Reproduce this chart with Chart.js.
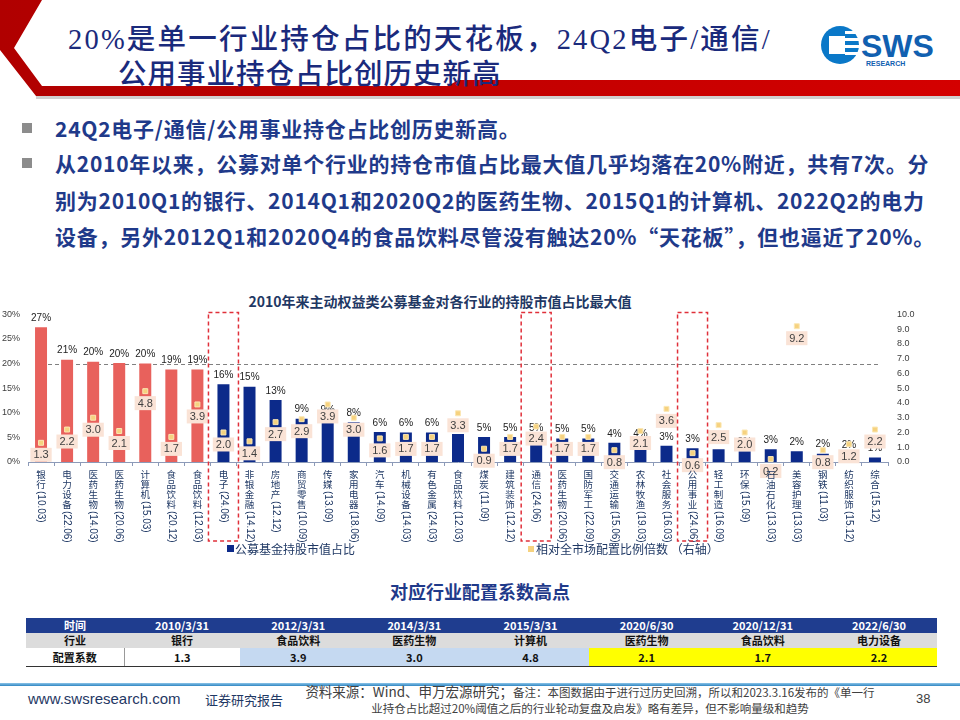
<!DOCTYPE html>
<html>
<head>
<meta charset="utf-8">
<script src="https://cdn.jsdelivr.net/npm/chart.js@4.4.1/dist/chart.umd.min.js"></script>
<style>
  body { margin: 0; background: #fff; }
  #slide { position: relative; width: 960px; height: 720px; overflow: hidden; background: #fff;
           font-family: "Noto Sans CJK SC", "Liberation Sans", sans-serif; }
  .abs { position: absolute; white-space: nowrap; }
  .title { font-family: "Liberation Serif", "Noto Sans CJK SC", serif; font-weight: 500; font-size: 28.5px;
           color: #1a2a7c; line-height: 34px; }
  .bullet { font-weight: 700; font-size: 21px; color: #1f3a8a; line-height: 36.5px; letter-spacing: 0.75px; }
  .sq { position: absolute; width: 10px; height: 10px; background: #8c8c8c; }
  table { position: absolute; left: 26px; top: 618px; width: 911px; border-collapse: collapse; table-layout: fixed;
          font-family: "Noto Sans CJK SC", sans-serif; font-size: 11px; font-weight: 700; }
  td { text-align: center; padding: 0; height: 15px; line-height: 15px; }
  tr.h td { background: #1f3d8f; color: #fff; }
  tr.r2 td { background: #dcdcdc; color: #111; }
  tr.r3 td { height: 18px; line-height: 18px; color: #111; border-bottom: 1.5px solid #333; }
</style>
</head>
<body>
<div id="slide">
  <svg class="abs" style="left:0;top:0" width="960" height="100">
    <defs>
      <linearGradient id="rg" x1="0" y1="0" x2="1" y2="0">
        <stop offset="0" stop-color="#b00000"/>
        <stop offset="1" stop-color="#d40000"/>
      </linearGradient>
    </defs>
    <polygon points="0,0 42,0 14,48 42,86 448,86 458,80 960,80 960,96 36,96 0,50" fill="url(#rg)"/>
    <rect x="36" y="96" width="924" height="3" fill="#d0d0d0"/>
    <circle cx="840" cy="45" r="19" fill="#0a78c8"/>
    <rect x="829" y="36" width="16" height="18" fill="#fff"/>
    <rect x="845" y="31" width="14" height="3" fill="#fff"/>
    <rect x="845" y="38" width="14" height="3" fill="#fff"/>
    <rect x="845" y="45" width="14" height="3" fill="#fff"/>
    <rect x="845" y="52" width="14" height="3" fill="#fff"/>
    <text x="861" y="57" font-family="Liberation Sans" font-weight="700" font-size="32" fill="#1160b0">SWS</text>
    <text x="866" y="66" font-family="Liberation Sans" font-weight="700" font-size="7" fill="#1160b0">RESEARCH</text>
  </svg>

  <div class="abs title" style="left:68px;top:23px;letter-spacing:2.2px">20%是单一行业持仓占比的天花板，24Q2电子/通信/</div>
  <div class="abs title" style="left:118px;top:58px;letter-spacing:1px">公用事业持仓占比创历史新高</div>

  <div class="sq" style="left:22px;top:123px"></div>
  <div class="abs bullet" style="left:55px;top:110px">24Q2电子/通信/公用事业持仓占比创历史新高。</div>
  <div class="sq" style="left:22px;top:158px"></div>
  <div class="abs bullet" style="left:55px;top:145px">从2010年以来，公募对单个行业的持仓市值占比最大值几乎均落在20%附近，共有7次。分<br>别为2010Q1的银行、2014Q1和2020Q2的医药生物、2015Q1的计算机、2022Q2的电力<br>设备，另外2012Q1和2020Q4的食品饮料尽管没有触达20%“天花板”，但也逼近了20%。</div>

  <div class="abs" style="left:0;width:880px;top:291px;text-align:center;font-weight:700;font-size:14px;color:#1f3864">2010年来主动权益类公募基金对各行业的持股市值占比最大值</div>

  <div class="abs" style="left:0;top:300px;width:960px;height:260px">
    <canvas id="c" width="960" height="260"></canvas>
  </div>

  <div class="abs" style="left:227px;top:545px;width:7px;height:7px;background:#0c2a8a"></div>
  <div class="abs" style="left:235px;top:540px;font-size:12px;color:#1f3864;line-height:17px">公募基金持股市值占比</div>
  <div class="abs" style="left:528px;top:546px;width:6px;height:6px;background:#f6d27f"></div>
  <div class="abs" style="left:536px;top:540px;font-size:12px;color:#1f3864;line-height:17px">相对全市场配置比例倍数 （右轴）</div>

  <div class="abs" style="left:0;width:960px;top:578px;text-align:center;font-weight:700;font-size:18px;color:#1f3a8a">对应行业配置系数高点</div>

  <table>
    <colgroup><col style="width:98px"><col><col><col><col><col><col><col></colgroup>
    <tr class="h"><td>时间</td><td>2010/3/31</td><td>2012/3/31</td><td>2014/3/31</td><td>2015/3/31</td><td>2020/6/30</td><td>2020/12/31</td><td>2022/6/30</td></tr>
    <tr class="r2"><td>行业</td><td>银行</td><td>食品饮料</td><td>医药生物</td><td>计算机</td><td>医药生物</td><td>食品饮料</td><td>电力设备</td></tr>
    <tr class="r3"><td style="border-right:1px solid #999">配置系数</td><td>1.3</td><td style="background:#c5d9f1">3.9</td><td style="background:#c5d9f1">3.0</td><td style="background:#c5d9f1">4.8</td><td style="background:#ffff00">2.1</td><td style="background:#ffff00">1.7</td><td style="background:#ffff00">2.2</td></tr>
  </table>

  <div class="abs" style="left:0;top:683px;width:960px;height:3px;background:linear-gradient(#8cc4e8,#2f86c2)"></div>
  <div class="abs" style="left:28px;top:690px;font-family:'Liberation Sans';font-size:15px;color:#1f3864">www.swsresearch.com</div>
  <div class="abs" style="left:205px;top:690px;font-size:13px;color:#1f3864">证券研究报告</div>
  <div class="abs" style="left:300px;top:683px;width:580px;text-align:center;font-size:11.5px;color:#404040;line-height:16px;white-space:normal">
    <span style="font-size:13.5px">资料来源：Wind、申万宏源研究；</span>备注：本图数据由于进行过历史回溯，所以和2023.3.16发布的《单一行<br>业持仓占比超过20%阈值之后的行业轮动复盘及启发》略有差异，但不影响量级和趋势
  </div>
  <div class="abs" style="left:916px;top:691px;font-family:'Liberation Sans';font-size:13px;color:#404040">38</div>
</div>

<script>
// industries, with the quarter in which the max share was reached
const categories = [
  '银行(10.03)', '电力设备(22.06)', '医药生物(14.03)', '医药生物(20.06)', '计算机(15.03)',
  '食品饮料(20.12)', '食品饮料(12.03)', '电子(24.06)', '非银金融(14.12)', '房地产(12.12)',
  '商贸零售(10.09)', '传媒(13.09)', '家用电器(18.06)', '汽车(14.09)', '机械设备(14.03)',
  '有色金属(24.03)', '食品饮料(12.03)', '煤炭(11.09)', '建筑装饰(12.12)', '通信(24.06)',
  '医药生物(20.06)', '国防军工(22.09)', '交通运输(15.06)', '农林牧渔(19.03)', '社会服务(16.03)',
  '公用事业(24.06)', '轻工制造(16.09)', '环保(15.09)', '石油石化(13.03)', '美容护理(13.03)',
  '钢铁(11.03)', '纺织服饰(15.12)', '综合(15.12)'
];
// 公募基金持股市值占比 (%)
const holdingShare = [
  27.4, 20.8, 20.4, 20.1, 20.0, 18.8, 18.8, 15.8, 15.3, 12.6,
  8.8, 8.6, 8.1, 6.1, 6.0, 6.0, 5.7, 5.1, 5.1, 5.0,
  4.8, 4.8, 3.9, 3.8, 3.3, 2.8, 2.6, 2.2, 2.6, 2.2,
  1.7, 1.6, 0.9
];
// 相对全市场配置比例倍数 (right axis)
const allocRatio = [
  1.3, 2.2, 3.0, 2.1, 4.8, 1.7, 3.9, 2.0, 1.4, 2.7,
  2.9, 3.9, 3.0, 1.6, 1.7, 1.7, 3.3, 0.9, 1.7, 2.4,
  1.7, 1.7, 0.8, 2.1, 3.6, 0.6, 2.5, 2.0, 0.2, 9.2,
  0.8, 1.2, 2.2
];
const leftTicks = [0, 5, 10, 15, 20, 25, 30];
const rightTicks = [0, 1, 2, 3, 4, 5, 6, 7, 8, 9, 10];
const CEILING = 20;          // the "天花板"
const NEAR_CEILING = 18.5;   // bars drawn red
const highlighted = ['电子(24.06)', '通信(24.06)', '公用事业(24.06)'];

const RED = '#e8615c', BLUE = '#0c2a8a', MARK = '#f6d27f';
const LABEL_FONT = '"Liberation Sans", "Noto Sans CJK SC", sans-serif';

const overlay = {
  id: 'overlay',
  beforeDatasetsDraw(chart) {
    const { ctx, scales: { x, y } } = chart;
    const yy = Math.round(y.getPixelForValue(CEILING)) + 0.5;
    ctx.save();
    ctx.strokeStyle = '#808080';
    ctx.lineWidth = 1;
    ctx.setLineDash([4, 3]);
    ctx.beginPath();
    ctx.moveTo(x.getPixelForValue(0), yy);
    ctx.lineTo(x.getPixelForValue(categories.length - 1) + 3, yy);
    ctx.stroke();
    ctx.restore();
  },
  beforeDatasetDraw(chart, args) {
    if (args.meta.type !== 'line') return;
    // percent labels above bars (drawn under the markers)
    const ctx = chart.ctx;
    ctx.save();
    ctx.font = '10px ' + LABEL_FONT;
    ctx.fillStyle = '#222';
    ctx.textAlign = 'center';
    ctx.textBaseline = 'middle';
    chart.getDatasetMeta(0).data.forEach((bar, i) => {
      ctx.fillText(Math.round(holdingShare[i]) + '%', bar.x, bar.y - 9);
    });
    ctx.restore();
  },
  afterDatasetsDraw(chart) {
    const ctx = chart.ctx;
    ctx.save();
    ctx.font = '11px ' + LABEL_FONT;
    ctx.textAlign = 'center';
    ctx.textBaseline = 'middle';
    chart.getDatasetMeta(1).data.forEach((pt, i) => {
      const t = allocRatio[i].toFixed(1);
      const w = ctx.measureText(t).width + 6;
      const cy = pt.y + 12;
      ctx.fillStyle = '#fae3d6';
      ctx.fillRect(pt.x - w / 2, cy - 7, w, 14);
      ctx.fillStyle = '#404040';
      ctx.fillText(t, pt.x, cy + 0.5);
    });
    ctx.restore();
  },
  afterDraw(chart) {
    const { ctx, chartArea, scales: { x } } = chart;
    ctx.save();
    // vertical category labels: CJK upright, date rotated
    ctx.fillStyle = '#1f3864';
    categories.forEach((lab, i) => {
      const cx = x.getPixelForValue(i);
      const m = lab.match(/^(.*?)(\(.*\))$/);
      const name = m ? m[1] : lab, tail = m ? m[2] : '';
      let ty = chartArea.bottom + 8;
      ctx.font = '9.5px "Noto Sans CJK SC", sans-serif';
      ctx.textAlign = 'center';
      ctx.textBaseline = 'top';
      for (const ch of name) {
        ctx.fillText(ch, cx, ty);
        ty += 10;
      }
      ctx.save();
      ctx.translate(cx, ty + 1);
      ctx.rotate(Math.PI / 2);
      ctx.font = '10px ' + LABEL_FONT;
      ctx.textAlign = 'left';
      ctx.textBaseline = 'middle';
      ctx.fillText(tail, 0, 0);
      ctx.restore();
    });
    // red dashed boxes round the 24Q2 records
    ctx.strokeStyle = '#e0303a';
    ctx.lineWidth = 1.5;
    ctx.setLineDash([4, 3]);
    highlighted.forEach(lab => {
      const cx = x.getPixelForValue(categories.indexOf(lab));
      ctx.strokeRect(cx - 15, chartArea.top - 2, 30, chartArea.bottom - chartArea.top + 81);
    });
    ctx.restore();
  }
};

new Chart(document.getElementById('c'), {
  type: 'bar',
  data: {
    labels: categories,
    datasets: [
      {
        label: '公募基金持股市值占比',
        data: holdingShare,
        yAxisID: 'y',
        order: 2,
        backgroundColor: holdingShare.map(v => v >= NEAR_CEILING ? RED : BLUE),
        barPercentage: 0.46,
        categoryPercentage: 1,
      },
      {
        type: 'line',
        label: '相对全市场配置比例倍数（右轴）',
        data: allocRatio,
        yAxisID: 'y1',
        order: 1,
        showLine: false,
        pointStyle: 'rect',
        pointRadius: 3.5,
        pointBackgroundColor: MARK,
        pointBorderColor: '#fbe7b4',
        pointBorderWidth: 1,
      },
    ],
  },
  options: {
    responsive: false,
    animation: false,
    devicePixelRatio: 1,
    layout: { padding: { top: 13, left: 0, right: 0, bottom: 0 } },
    scales: {
      x: {
        grid: { drawOnChartArea: false, tickLength: 4, color: '#8c9ab8' },
        border: { color: '#8c9ab8' },
        ticks: { display: false },
        afterFit: s => { s.height = 98; },
      },
      y: {
        position: 'left',
        min: 0, max: 30,
        afterBuildTicks: s => { s.ticks = leftTicks.map(v => ({ value: v })); },
        ticks: { callback: v => v + '%', font: { size: 9, family: LABEL_FONT }, color: '#404040', padding: 8 },
        grid: { display: false, drawTicks: false },
        border: { display: false },
        afterFit: s => { s.width = 28; },
      },
      y1: {
        position: 'right',
        min: 0, max: 10,
        afterBuildTicks: s => { s.ticks = rightTicks.map(v => ({ value: v })); },
        ticks: { callback: v => v.toFixed(1), font: { size: 9, family: LABEL_FONT }, color: '#404040', padding: 9 },
        grid: { display: false, drawTicks: false },
        border: { display: false },
        afterFit: s => { s.width = 72; },
      },
    },
    plugins: {
      legend: { display: false },
      tooltip: { enabled: false },
    },
  },
  plugins: [overlay],
});
</script>
</body>
</html>
